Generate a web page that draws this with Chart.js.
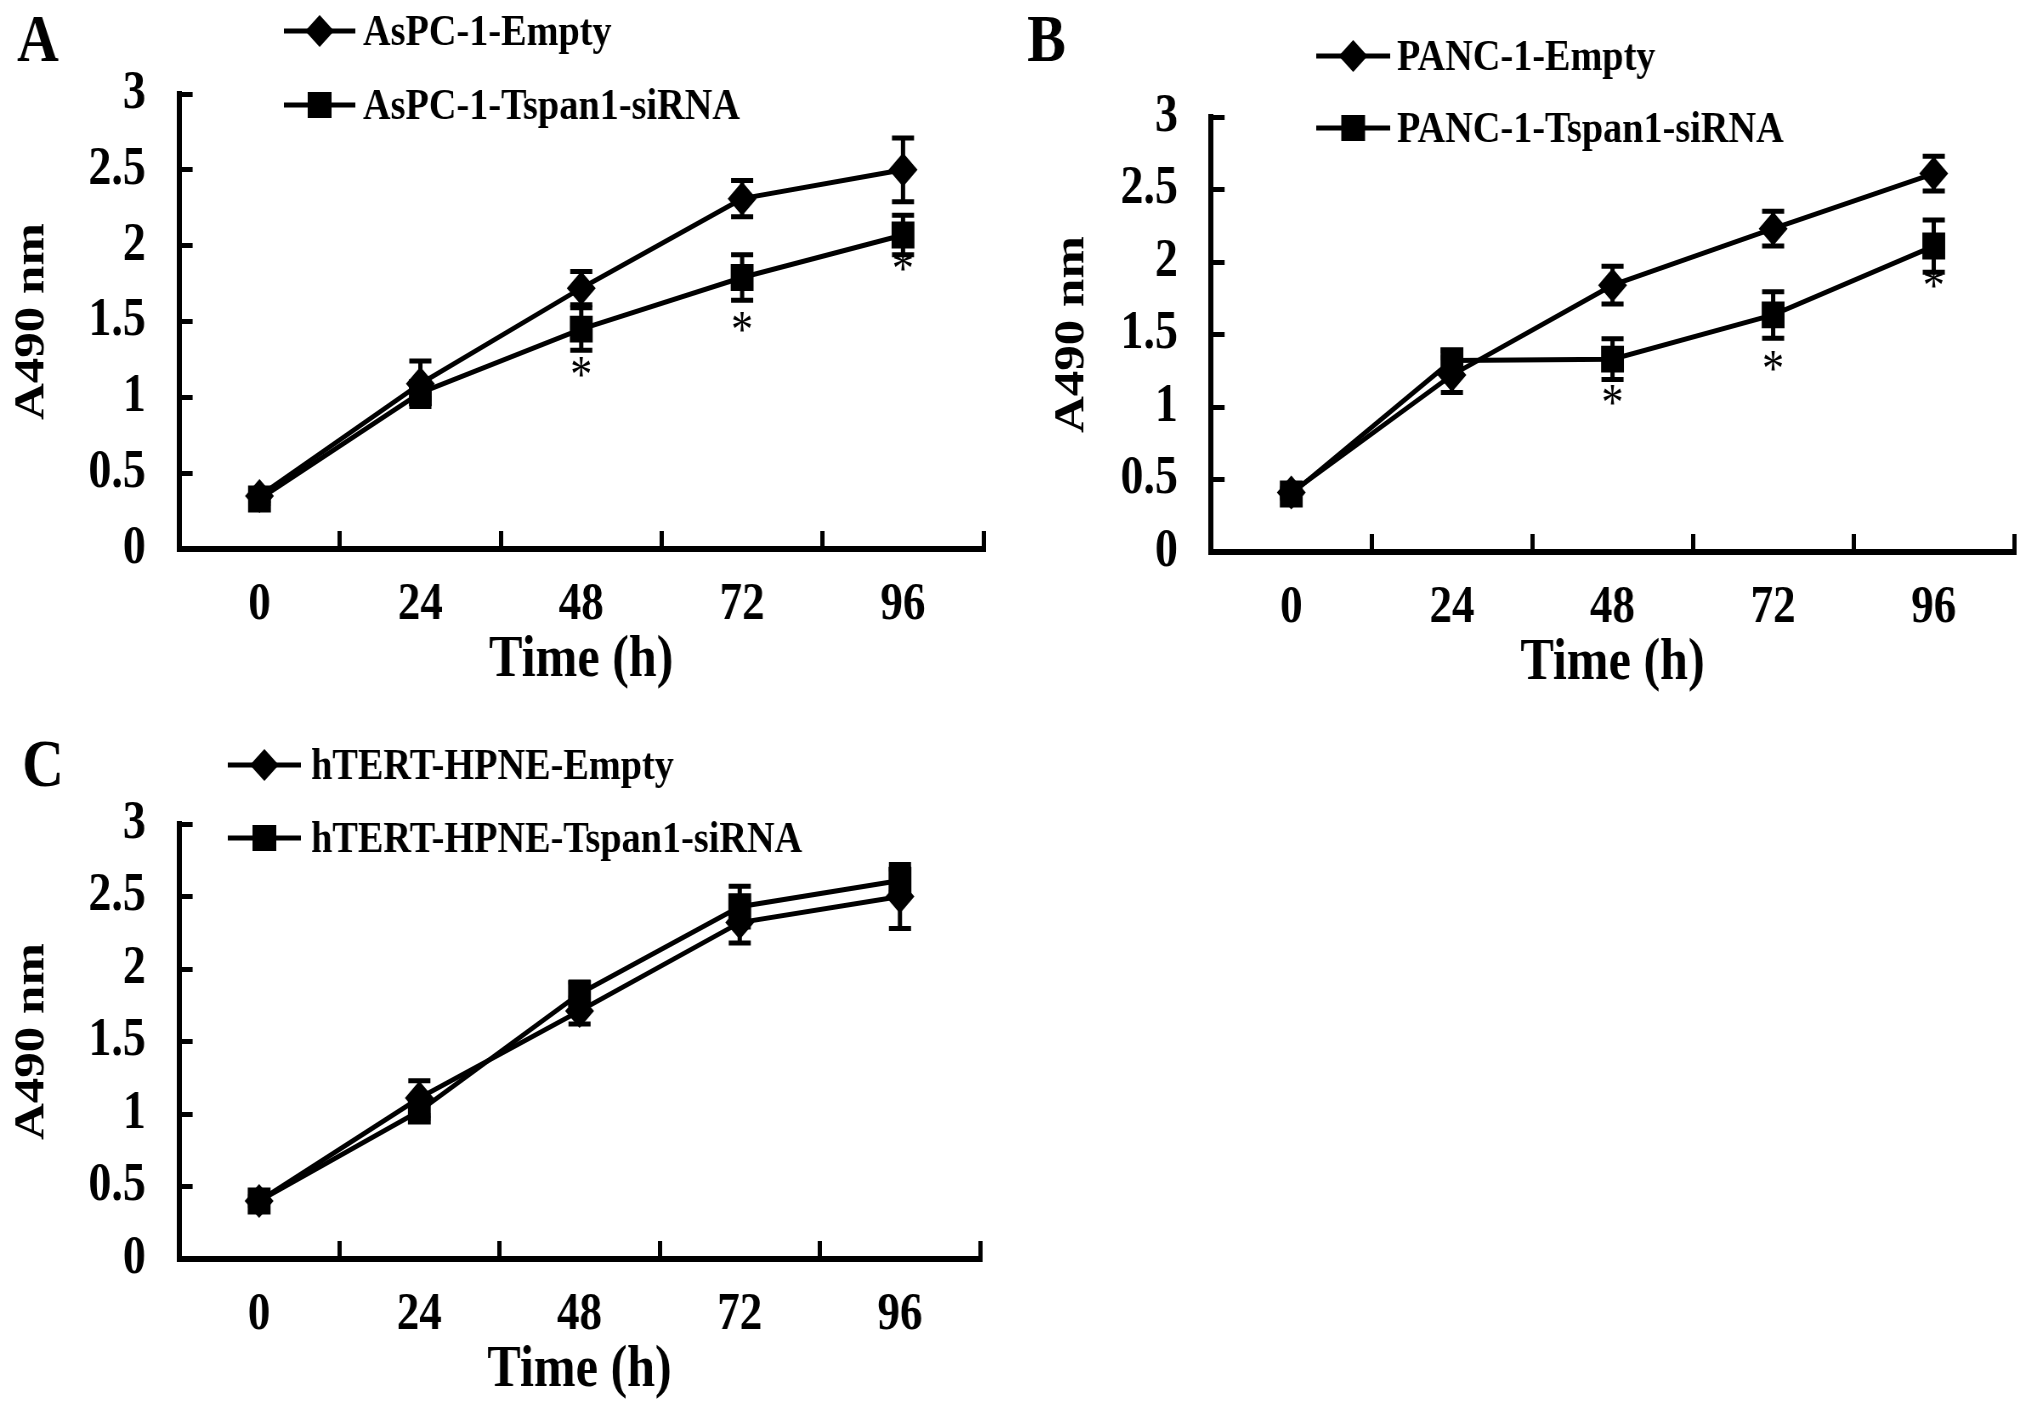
<!DOCTYPE html>
<html>
<head>
<meta charset="utf-8">
<title>Tspan1 siRNA growth curves</title>
<script src="https://cdn.jsdelivr.net/npm/chart.js@4.4.1/dist/chart.umd.min.js"></script>
<style>
  html, body { margin: 0; padding: 0; background: #fff; overflow: hidden; }
  body { width: 2031px; height: 1410px; position: relative; }
  /* the original figure is a little squeezed sideways, so each panel is too */
  .panel { position: absolute; transform: scaleX(0.85); transform-origin: 0 0; }
</style>
</head>
<body>
<div class="panel" style="left:0px;top:0px"><canvas id="chartA" width="1176" height="720"></canvas></div>
<div class="panel" style="left:1000px;top:0px"><canvas id="chartB" width="1213" height="720"></canvas></div>
<div class="panel" style="left:0px;top:690px"><canvas id="chartC" width="1176" height="720"></canvas></div>
<script>
// time points (h)
const hours = ["0", "24", "48", "72", "96"];
const yTickLabels = ["0", "0.5", "1", "1.5", "2", "2.5", "3"];

// A - AsPC-1
const aspcLabels = ["AsPC-1-Empty", "AsPC-1-Tspan1-siRNA"];
const aspcEmpty = [0.35, 1.09, 1.72, 2.31, 2.50];
const aspcEmptyErr = [0.03, 0.15, 0.11, 0.12, 0.21];
const aspcSirna = [0.33, 1.03, 1.45, 1.79, 2.07];
const aspcSirnaErr = [0.03, 0.04, 0.14, 0.15, 0.13];
const aspcStars = [null, null, 1.20, 1.50, 1.90];

// B - PANC-1
const pancLabels = ["PANC-1-Empty", "PANC-1-Tspan1-siRNA"];
const pancEmpty = [0.41, 1.22, 1.84, 2.23, 2.61];
const pancEmptyErr = [0.03, 0.12, 0.13, 0.12, 0.12];
const pancSirna = [0.40, 1.32, 1.33, 1.635, 2.11];
const pancSirnaErr = [0.03, 0.07, 0.14, 0.16, 0.18];
const pancStars = [null, null, 1.08, 1.32, 1.89];

// C - hTERT-HPNE
const hpneLabels = ["hTERT-HPNE-Empty", "hTERT-HPNE-Tspan1-siRNA"];
const hpneEmpty = [0.40, 1.11, 1.71, 2.32, 2.50];
const hpneEmptyErr = [0.03, 0.12, 0.09, 0.14, 0.22];
const hpneSirna = [0.40, 1.02, 1.83, 2.43, 2.61];
const hpneSirnaErr = [0.03, 0.05, 0.08, 0.14, 0.08];
const hpneStars = [null, null, null, null, null];

const FONT = "'Liberation Serif', 'Times New Roman', serif";

function drawMarker(ctx, shape, x, y) {
  ctx.beginPath();
  if (shape === "diamond") {
    ctx.moveTo(x - 17, y);
    ctx.lineTo(x, y - 16);
    ctx.lineTo(x + 17, y);
    ctx.lineTo(x, y + 16);
  } else {
    ctx.rect(x - 14, y - 13, 28, 26);
  }
  ctx.closePath();
  ctx.fill();
}

function makePanel(p) {
  const canvas = document.getElementById(p.id);
  const W = canvas.width, H = canvas.height;
  const errs = [p.emptyErr, p.sirnaErr];

  const extras = {
    id: "extras",
    afterDatasetsDraw(chart) {
      const ctx = chart.ctx;
      const x = chart.scales.x, y = chart.scales.y;
      ctx.save();
      ctx.strokeStyle = "#000";
      ctx.fillStyle = "#000";
      ctx.lineWidth = 5;
      // error bars
      chart.data.datasets.forEach((ds, d) => {
        ds.data.forEach((v, i) => {
          const e = errs[d][i];
          const px = x.getPixelForValue(i);
          const top = y.getPixelForValue(v + e);
          const bot = y.getPixelForValue(v - e);
          ctx.beginPath();
          ctx.moveTo(px, top); ctx.lineTo(px, bot);
          ctx.moveTo(px - 13, top); ctx.lineTo(px + 13, top);
          ctx.moveTo(px - 13, bot); ctx.lineTo(px + 13, bot);
          ctx.stroke();
        });
      });
      // significance stars
      ctx.font = "52px " + FONT;
      ctx.textAlign = "center";
      ctx.textBaseline = "alphabetic";
      const m = ctx.measureText("*");
      const shift = (m.actualBoundingBoxAscent - m.actualBoundingBoxDescent) / 2;
      p.stars.forEach((s, i) => {
        if (s === null) return;
        ctx.fillText("*", x.getPixelForValue(i), y.getPixelForValue(s) + shift);
      });
      ctx.restore();
    },
    afterDraw(chart) {
      const ctx = chart.ctx;
      ctx.save();
      ctx.fillStyle = "#000";
      ctx.strokeStyle = "#000";
      ctx.font = "bold 68px " + FONT;
      ctx.textBaseline = "alphabetic";
      ctx.fillText(p.letter, p.letterX, p.letterY);
      // legend
      ctx.font = "bold 45px " + FONT;
      ctx.textBaseline = "middle";
      p.legendY.forEach((ry, i) => {
        ctx.lineWidth = 5;
        ctx.beginPath();
        ctx.moveTo(p.legendX[0], ry);
        ctx.lineTo(p.legendX[1], ry);
        ctx.stroke();
        drawMarker(ctx, i === 0 ? "diamond" : "square", (p.legendX[0] + p.legendX[1]) / 2, ry);
        ctx.fillText(p.labels[i], p.legendX[2], ry + 2);
      });
      ctx.restore();
    }
  };

  const axisGrid = len => ({
    display: true,
    drawOnChartArea: false,
    drawTicks: true,
    tickLength: len,
    tickWidth: 5,
    tickColor: "#000"
  });
  const axisBorder = { display: true, width: 6, color: "#000" };

  new Chart(canvas, {
    type: "line",
    data: {
      labels: hours,
      datasets: [
        {
          label: p.labels[0],
          data: p.empty,
          borderColor: "#000",
          borderWidth: 5,
          tension: 0,
          pointStyle: "rectRot",
          pointRadius: 17,
          pointBackgroundColor: "#000",
          pointBorderColor: "#000",
          pointBorderWidth: 0
        },
        {
          label: p.labels[1],
          data: p.sirna,
          borderColor: "#000",
          borderWidth: 5,
          tension: 0,
          pointStyle: "rect",
          pointRadius: 19,
          pointBackgroundColor: "#000",
          pointBorderColor: "#000",
          pointBorderWidth: 0
        }
      ]
    },
    options: {
      responsive: false,
      animation: false,
      layout: { padding: { left: 0, top: p.top, right: W - p.right, bottom: 0 } },
      plugins: { legend: { display: false }, tooltip: { enabled: false } },
      scales: {
        x: {
          offset: true,
          afterFit: s => { s.height = H - p.bottom; },
          grid: Object.assign(axisGrid(-18), { offset: true }),
          border: axisBorder,
          ticks: {
            color: "#000",
            padding: 43,
            maxRotation: 0,
            font: { family: FONT, size: 53, weight: "bold" }
          },
          title: {
            display: true,
            text: "Time (h)",
            color: "#000",
            font: { family: FONT, size: 59, weight: "bold", lineHeight: 1 },
            padding: { top: 0, bottom: H - (p.bottom + 112) - 29.5 }
          }
        },
        y: {
          min: 0,
          max: 3,
          afterFit: s => { s.width = p.left; },
          grid: axisGrid(-16),
          border: axisBorder,
          ticks: {
            stepSize: 0.5,
            color: "#000",
            padding: 55,
            font: { family: FONT, size: 54, weight: "bold" },
            callback: (v, i) => yTickLabels[i]
          },
          title: {
            display: true,
            text: "A490 nm",
            color: "#000",
            font: { family: FONT, size: 51, weight: "bold", lineHeight: 1 },
            padding: { top: p.yTitleX - 25.5, bottom: 0 }
          }
        }
      }
    },
    plugins: [extras]
  });
}

document.addEventListener("DOMContentLoaded", () => {
  makePanel({
    id: "chartA", letter: "A", letterX: 20, letterY: 61,
    labels: aspcLabels, empty: aspcEmpty, emptyErr: aspcEmptyErr,
    sirna: aspcSirna, sirnaErr: aspcSirnaErr, stars: aspcStars,
    left: 210.6, right: 1161, top: 94, bottom: 549, yTitleX: 37.6,
    legendX: [334, 418, 427], legendY: [31, 105]
  });
  makePanel({
    id: "chartB", letter: "B", letterX: 32, letterY: 61,
    labels: pancLabels, empty: pancEmpty, emptyErr: pancEmptyErr,
    sirna: pancSirna, sirnaErr: pancSirnaErr, stars: pancStars,
    left: 248.2, right: 1193, top: 117, bottom: 552, yTitleX: 85,
    legendX: [372, 459, 467], legendY: [56, 128]
  });
  makePanel({
    id: "chartC", letter: "C", letterX: 26, letterY: 96,
    labels: hpneLabels, empty: hpneEmpty, emptyErr: hpneEmptyErr,
    sirna: hpneSirna, sirnaErr: hpneSirnaErr, stars: hpneStars,
    left: 210.6, right: 1153, top: 134, bottom: 569, yTitleX: 37.6,
    legendX: [268, 354, 366], legendY: [75, 148]
  });
});
</script>
</body>
</html>
